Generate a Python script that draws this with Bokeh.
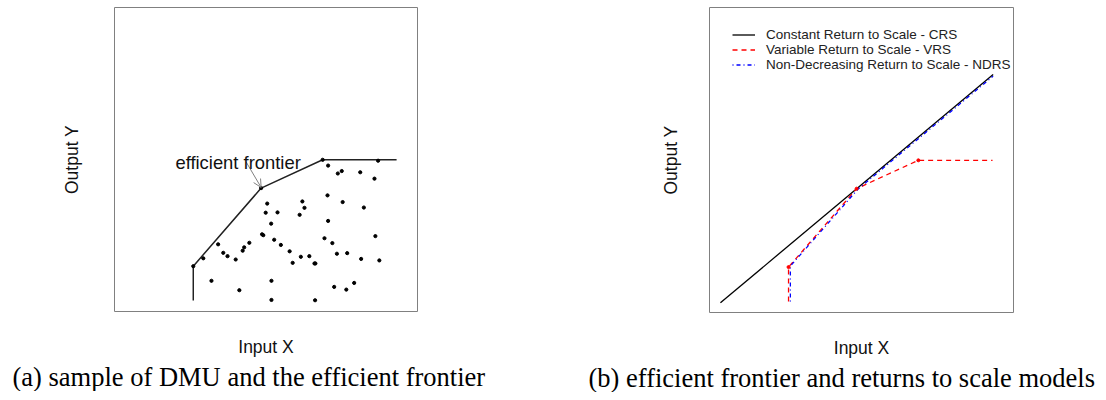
from bokeh.plotting import figure
from bokeh.models import Range1d, FixedTicker, Arrow, OpenHead, Label, Title
from bokeh.layouts import row
from bokeh.embed import file_html
from bokeh.resources import INLINE

# ---- data (panel a) ----
dmu_x = [2.93, 3.42, 3.59, 3.73, 4.00, 4.23, 4.28, 4.45, 3.20, 4.12,
         4.87, 4.91, 5.04, 4.99, 5.38, 5.17, 5.27, 5.49, 5.78, 5.88,
         6.15, 6.43, 6.60, 6.63, 6.20, 6.27, 6.11, 5.18, 5.18, 6.62,
         7.03, 7.05, 6.93, 7.19, 7.34, 7.68, 7.25, 7.65, 7.91, 7.53,
         7.05, 7.37, 7.50, 8.11, 8.58, 8.70, 8.23, 8.61, 8.14, 8.74,
         2.60, 4.84, 6.87]
dmu_y = [1.75, 2.21, 1.93, 1.82, 1.71, 2.00, 2.11, 2.26, 1.01, 0.70,
         2.54, 2.51, 3.55, 3.25, 3.26, 2.89, 2.36, 2.19, 1.98, 1.60,
         1.80, 1.82, 1.58, 1.58, 3.62, 3.41, 3.18, 1.01, 0.38, 0.37,
         3.82, 2.98, 2.41, 2.25, 1.90, 1.92, 0.81, 0.72, 0.94, 3.60,
         4.80, 4.54, 4.62, 4.58, 4.37, 4.96, 3.42, 2.48, 1.73, 1.68,
         1.49, 4.06, 4.99]
frontier_x = [2.60, 2.60, 4.84, 6.87, 9.31]
frontier_y = [0.36, 1.49, 4.06, 4.99, 4.99]

# ---- data (panel b) ----
crs_x = [0.36, 9.33]
crs_y = [0.32, 7.80]
vrs_x = [2.60, 2.60, 4.84, 6.87, 9.31]
vrs_y = [0.36, 1.49, 4.06, 4.99, 4.99]
ndrs_x = [2.66, 2.66, 4.88, 9.33]
ndrs_y = [0.36, 1.52, 4.04, 7.75]

labels = ["Constant Return to Scale - CRS",
          "Variable Return to Scale - VRS",
          "Non-Decreasing Return to Scale - NDRS"]
caption_a = "(a) sample of DMU and the efficient frontier"
caption_b = "(b) efficient frontier and returns to scale models"

SANS = "Liberation Sans"
SERIF = "Liberation Serif"


def style(p, ylab_standoff, cap, cap_offset):
    p.grid.visible = False
    p.outline_line_color = "#808080"
    p.outline_line_width = 1
    for ax in (p.xaxis, p.yaxis):
        ax.ticker = FixedTicker(ticks=[])
        ax.major_label_text_font_size = "0px"
        ax.axis_line_color = None
        ax.major_tick_line_color = None
        ax.minor_tick_line_color = None
        ax.axis_label_text_font = SANS
        ax.axis_label_text_font_size = "17.5px"
        ax.axis_label_text_font_style = "normal"
        ax.axis_label_text_color = "#111111"
    p.xaxis.axis_label = "Input X"
    p.yaxis.axis_label = "Output Y"
    p.xaxis.axis_label_standoff = 25
    p.yaxis.axis_label_standoff = ylab_standoff
    p.add_layout(Title(text=cap, align="left", offset=cap_offset,
                       text_font=SERIF, text_font_size="26.5px",
                       text_font_style="normal", text_color="#000000",
                       standoff=0), "below")


pa = figure(frame_width=303, frame_height=304, min_border_left=114,
            min_border_right=129, min_border_top=7, min_border_bottom=80,
            x_range=Range1d(0, 10), y_range=Range1d(0, 10),
            output_backend="svg", toolbar_location=None)
pa.line(frontier_x, frontier_y, line_color="#222222", line_width=1.5)
pa.scatter(dmu_x, dmu_y, size=3.2, color="#000000")
pa.add_layout(Arrow(end=OpenHead(size=8, line_color="#808080", line_width=1),
                    x_start=4.35, y_start=4.91, x_end=4.84, y_end=4.08,
                    line_color="#808080", line_width=1))
pa.add_layout(Label(x=2.01, y=4.90, text="efficient frontier",
                    text_font=SANS, text_font_size="18.4px",
                    text_baseline="alphabetic", text_align="left",
                    text_color="#111111"))
style(pa, 33, caption_a, -102)

pb = figure(frame_width=304, frame_height=305, min_border_left=163,
            min_border_right=85, min_border_top=7, min_border_bottom=79,
            x_range=Range1d(0, 10), y_range=Range1d(0, 10),
            output_backend="svg", toolbar_location=None)
pb.line(crs_x, crs_y, line_color="#000000", line_width=1.3,
        legend_label=labels[0])
pb.line(vrs_x, vrs_y, line_color="#ff0000", line_width=1.3,
        line_dash="5 4", legend_label=labels[1])
pb.line(ndrs_x, ndrs_y, line_color="#0000ff", line_width=1.3,
        line_dash="1 3 4 3", legend_label=labels[2])
pb.scatter(vrs_x[1:4], vrs_y[1:4], size=3, color="#ff0000")
lg = pb.legend[0]
lg.location = (23, 240)
lg.padding = 0
lg.margin = 0
lg.spacing = 0
lg.glyph_width = 23
lg.glyph_height = 15
lg.label_height = 15
lg.label_standoff = 11
lg.label_text_font = SANS
lg.label_text_font_size = "13.5px"
lg.label_text_color = "#222222"
lg.background_fill_alpha = 0
lg.border_line_color = None
style(pb, 29, caption_b, -121)

layout = row(pa, pb)
open("out.html", "w").write(file_html(layout, INLINE))
